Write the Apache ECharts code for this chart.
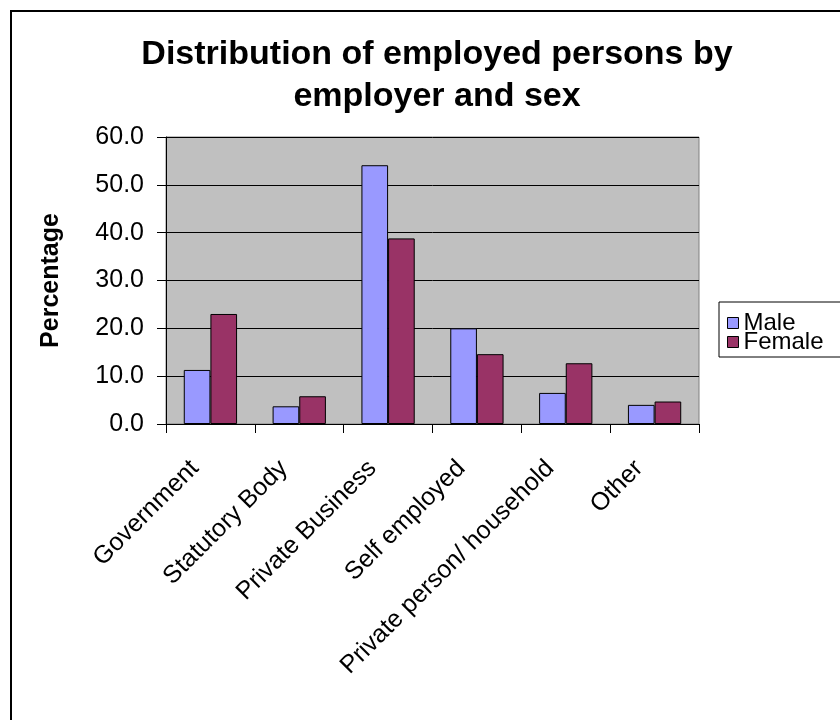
<!DOCTYPE html>
<html>
<head>
<meta charset="utf-8">
<script src="https://cdn.jsdelivr.net/npm/echarts@6/dist/echarts.min.js"></script>
<style>
  html, body { margin: 0; padding: 0; background: #fff; }
  #chart { width: 840px; height: 720px; }
</style>
</head>
<body>
<div id="chart"></div>
<script>
// Employer categories along the x axis
const categories = ['Government', 'Statutory Body', 'Private Business', 'Self employed', 'Private person/ household', 'Other'];
// Percentage of employed persons, by sex
const maleValues = [11.3, 3.7, 54.1, 20.0, 6.5, 4.0];
const femaleValues = [23.0, 5.8, 38.8, 14.6, 12.7, 4.7];
// Value axis ticks
const yTicks = { min: 0, max: 60, interval: 10 };

const FONT = '"Liberation Sans", Arial, sans-serif';

const chart = echarts.init(document.getElementById('chart'), null, { renderer: 'canvas' });

chart.setOption({
  animation: false,
  backgroundColor: '#ffffff',
  title: {
    text: 'Distribution of employed persons by\nemployer and sex',
    left: 432,
    textAlign: 'center',
    top: 29,
    textStyle: { fontFamily: FONT, fontSize: 34, fontWeight: 'bold', color: '#000', lineHeight: 42 }
  },
  graphic: [{
    type: 'rect',
    shape: { x: 11, y: 11, width: 900, height: 900 },
    style: { fill: 'none', stroke: '#000', lineWidth: 2 },
    silent: true
  }],
  legend: {
    orient: 'vertical',
    left: 719,
    top: 302,
    padding: [9, 40, 3, 8],
    itemGap: -5,
    itemWidth: 11,
    itemHeight: 11,
    borderColor: '#000',
    borderWidth: 1,
    backgroundColor: '#fff',
    textStyle: { fontFamily: FONT, fontSize: 24, color: '#000' },
    data: [
      { name: 'Male', icon: 'rect', itemStyle: { borderColor: '#000', borderWidth: 1 } },
      { name: 'Female', icon: 'rect', itemStyle: { borderColor: '#000', borderWidth: 1 } }
    ]
  },
  grid: {
    left: 166,
    top: 137,
    right: 141,
    bottom: 296,
    show: true,
    backgroundColor: '#C0C0C0',
    borderColor: '#808080',
    borderWidth: 1,
    containLabel: false
  },
  xAxis: {
    type: 'category',
    data: categories,
    axisLine: { lineStyle: { color: '#000', width: 1 } },
    axisTick: { show: true, length: 9, lineStyle: { color: '#000' } },
    axisLabel: {
      rotate: 45,
      interval: 0,
      margin: 25,
      padding: [0, 22, 0, 0],
      fontFamily: FONT,
      fontSize: 25,
      color: '#000'
    }
  },
  yAxis: {
    type: 'value',
    min: yTicks.min,
    max: yTicks.max,
    interval: yTicks.interval,
    name: 'Percentage',
    nameLocation: 'middle',
    nameGap: 102,
    nameRotate: 90,
    nameTextStyle: { fontFamily: FONT, fontSize: 25, fontWeight: 'bold', color: '#000' },
    axisLine: { show: true, lineStyle: { color: '#000', width: 1 } },
    axisTick: { show: true, length: 9, lineStyle: { color: '#000' } },
    axisLabel: {
      margin: 22,
      fontFamily: FONT,
      fontSize: 25,
      color: '#000',
      formatter: v => v.toFixed(1)
    },
    splitLine: { show: true, lineStyle: { color: '#000', width: 1 } }
  },
  series: [
    {
      name: 'Male',
      type: 'bar',
      data: maleValues,
      barGap: '0%',
      barCategoryGap: '40%',
      itemStyle: { color: '#9999FF', borderColor: '#000', borderWidth: 1 }
    },
    {
      name: 'Female',
      type: 'bar',
      data: femaleValues,
      barGap: '0%',
      barCategoryGap: '40%',
      itemStyle: { color: '#993366', borderColor: '#000', borderWidth: 1 }
    }
  ]
});
</script>
</body>
</html>
